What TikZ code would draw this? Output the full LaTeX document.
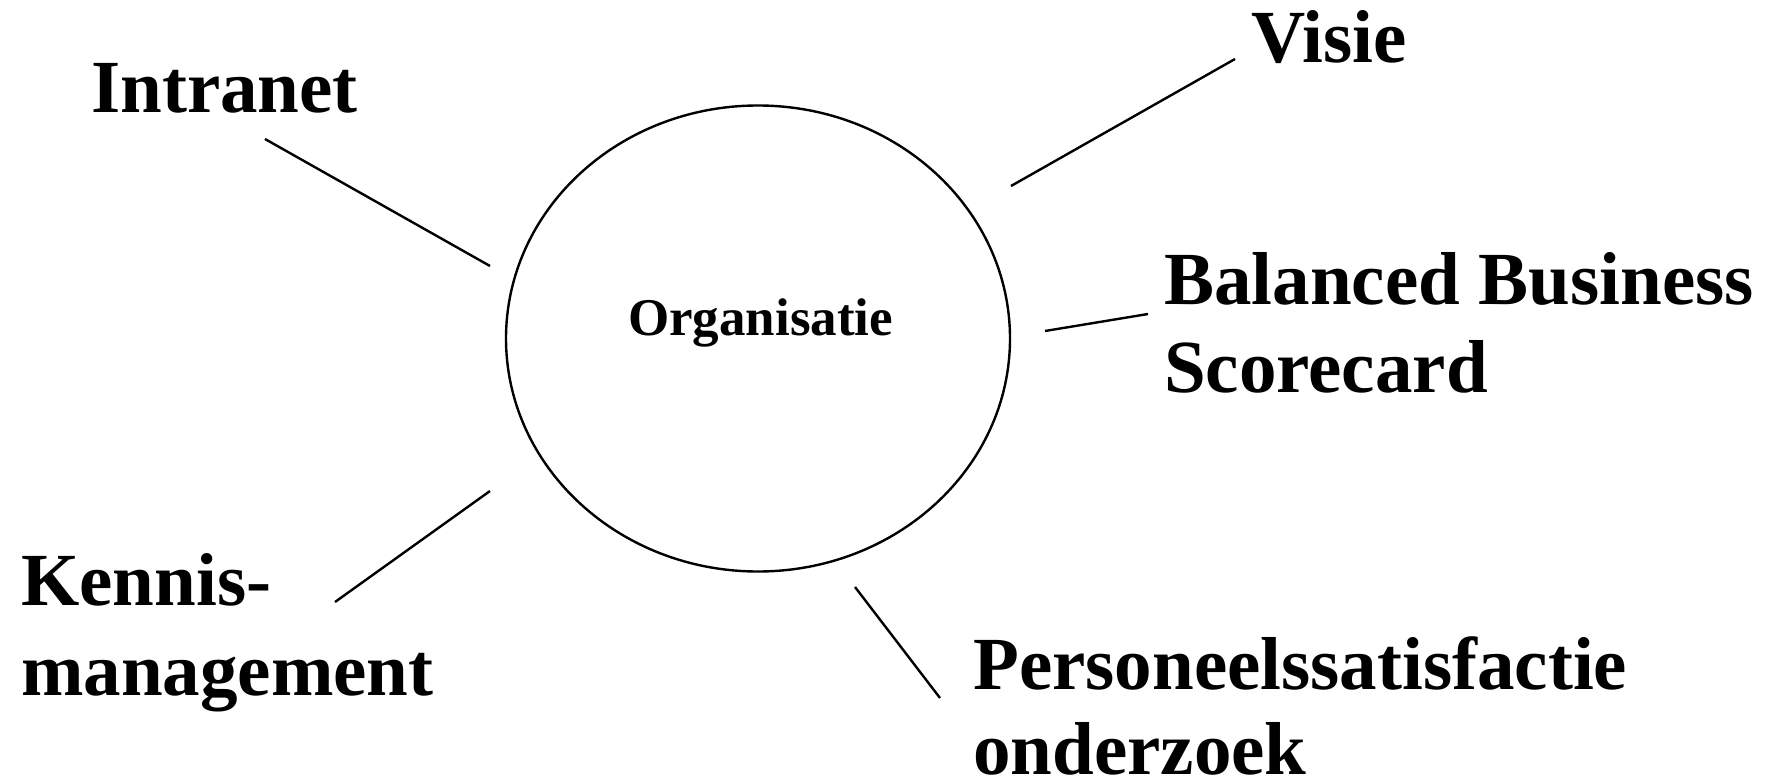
\documentclass[tikz,border=0pt]{standalone}
\usepackage{fontspec}
\setmainfont{Liberation Serif}
\begin{document}
\begin{tikzpicture}[x=1pt,y=-1pt,
  lbl/.style={inner sep=0pt, anchor=base west, font=\fontsize{75}{80}\selectfont\bfseries},
  ctr/.style={inner sep=0pt, anchor=base west, font=\fontsize{53}{58}\selectfont\bfseries},
  conn/.style={line width=2.4pt, line cap=butt}]
\useasboundingbox (0,0) rectangle (1780,781);
% central ellipse
\draw[line width=2.4pt] (758,338.5) ellipse [x radius=252, y radius=233];
\node[ctr] (org) at (628,335) {Organisatie};
% labels
\node[lbl] (intranet) at (91,113) {Intranet};
\node[lbl] (visie) at (1251,63) {Visie};
\node[lbl] (bbs1) at (1164,304) {Balanced Business};
\node[lbl] (bbs2) at (1164,392) {Scorecard};
\node[lbl] (km1) at (21,605) {Kennis-};
\node[lbl] (km2) at (21,695) {management};
\node[lbl] (ps1) at (973,689) {Personeelssatisfactie};
\node[lbl] (ps2) at (973,774) {onderzoek};
% connector end points
\coordinate (iA) at (265,139);  \coordinate (iB) at (490,266);
\coordinate (vA) at (1011,186); \coordinate (vB) at (1235,59);
\coordinate (bA) at (1045,331); \coordinate (bB) at (1148,314);
\coordinate (kA) at (335,602);  \coordinate (kB) at (490,491);
\coordinate (pA) at (855,587);  \coordinate (pB) at (940,698);
\draw[conn] (iA) -- (iB);
\draw[conn] (vA) -- (vB);
\draw[conn] (bA) -- (bB);
\draw[conn] (kA) -- (kB);
\draw[conn] (pA) -- (pB);
\end{tikzpicture}
\end{document}
